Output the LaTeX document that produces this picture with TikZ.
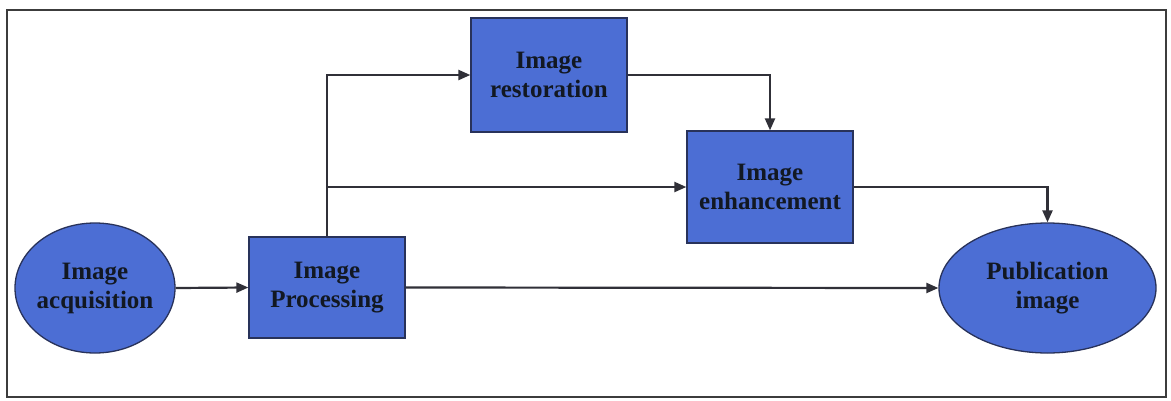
\documentclass[tikz,border=0pt]{standalone}
\usepackage{fontspec}
\setmainfont{Liberation Serif}
\usetikzlibrary{shapes.geometric,arrows.meta}
\definecolor{boxfill}{RGB}{76,110,212}
\definecolor{boxedge}{RGB}{40,50,90}
\definecolor{txt}{RGB}{18,24,34}
\definecolor{conn}{RGB}{48,48,56}
\definecolor{framec}{RGB}{60,60,60}
\newcommand{\fitw}[1]{\makebox[90pt]{#1}}
\tikzset{
  lbl/.style={font=\fontsize{25}{29}\selectfont\bfseries, text=txt, align=center, inner sep=0pt},
  blk/.style={lbl, rectangle, draw=boxedge, line width=1.3pt, fill=boxfill},
  oval/.style={lbl, ellipse, draw=boxedge, line width=1.3pt, fill=boxfill},
  conn/.style={draw=conn, line width=2.2pt, -{Triangle[length=12pt,width=10pt]}},
}
\begin{document}
\begin{tikzpicture}[x=1pt,y=-1pt]
\useasboundingbox (0,0) rectangle (1171,400);
\fill[white] (0,0) rectangle (1171,400);
\draw[framec, line width=1.5pt] (7,10) rectangle (1166,397);
\node[oval, minimum width=160pt, minimum height=130pt] (acq) at (95,288) {\fitw{Image}\\\fitw{acquisition}};
\node[blk, minimum width=156pt, minimum height=101pt] (proc) at (327,287.5) {Image\\Processing};
\node[blk, minimum width=156pt, minimum height=114pt] (rest) at (549,75) {Image\\restoration};
\node[blk, minimum width=166pt, minimum height=112pt] (enh) at (770,187) {Image\\enhancement};
\node[oval, minimum width=217pt, minimum height=130pt] (pub) at (1047.5,288) {\fitw{Publication}\\\fitw{image}};
\coordinate (br) at (proc.north |- enh.west);
\draw[conn] (acq.east) -- (proc.west);
\draw[conn] (proc.east) -- (pub.west);
\draw[conn] (proc.north) |- (rest.west);
\draw[conn] (br) -- (enh.west);
\draw[conn] (rest.east) -| (enh.north);
\draw[conn] (enh.east) -| (pub.north);
\end{tikzpicture}
\end{document}
